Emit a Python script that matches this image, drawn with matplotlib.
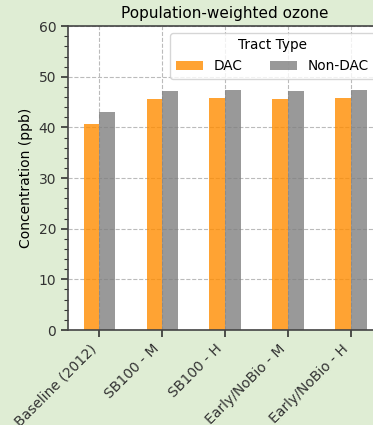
import numpy as np
import matplotlib
matplotlib.use('Agg')
import matplotlib.pyplot as plt
from matplotlib.ticker import AutoMinorLocator

# Population-weighted ozone by scenario and tract type
scenarios = ['Baseline (2012)', 'SB100 - M', 'SB100 - H', 'Early/NoBio - M', 'Early/NoBio - H']
dac = [40.6, 45.6, 45.9, 45.6, 45.9]
non_dac = [43.0, 47.2, 47.4, 47.2, 47.4]

bg = '#dfedd4'
fig = plt.figure(figsize=(3.73, 4.25), dpi=100, facecolor=bg)
ax = fig.add_axes([0.1823, 0.2235, 0.843, 0.715])

x = np.arange(len(scenarios))
w = 0.25
ax.bar(x - w / 2, dac, w, color='darkorange', alpha=0.8, label='DAC', zorder=2)
ax.bar(x + w / 2, non_dac, w, color='gray', alpha=0.8, label='Non-DAC', zorder=2)

ax.set_xlim(-0.5, len(scenarios) - 0.5)
ax.set_ylim(0, 60)
ax.set_xticks(x)
ax.set_xticklabels(scenarios, rotation=45, ha='right', fontsize=10)
ax.yaxis.set_minor_locator(AutoMinorLocator())
ax.tick_params(axis='both', which='major', length=5, width=1.2, colors='#333333', labelsize=10)
ax.tick_params(axis='y', which='minor', length=3, width=0.8, colors='#333333')
ax.grid(True, linestyle='--', color='#bbbbbb', linewidth=0.8, zorder=0)
ax.set_axisbelow(True)

for side in ax.spines:
    ax.spines[side].set_color('#444444')
    ax.spines[side].set_linewidth(1.2)

ax.set_ylabel('Concentration (ppb)', fontsize=10)
ax.set_title('Population-weighted ozone', fontsize=11)
ax.legend(title='Tract Type', ncol=2, loc='upper right', fontsize=9.8, title_fontsize=9.8,
          bbox_to_anchor=(0.997, 1.0))

fig.savefig('out.png', dpi=100, facecolor=bg)
